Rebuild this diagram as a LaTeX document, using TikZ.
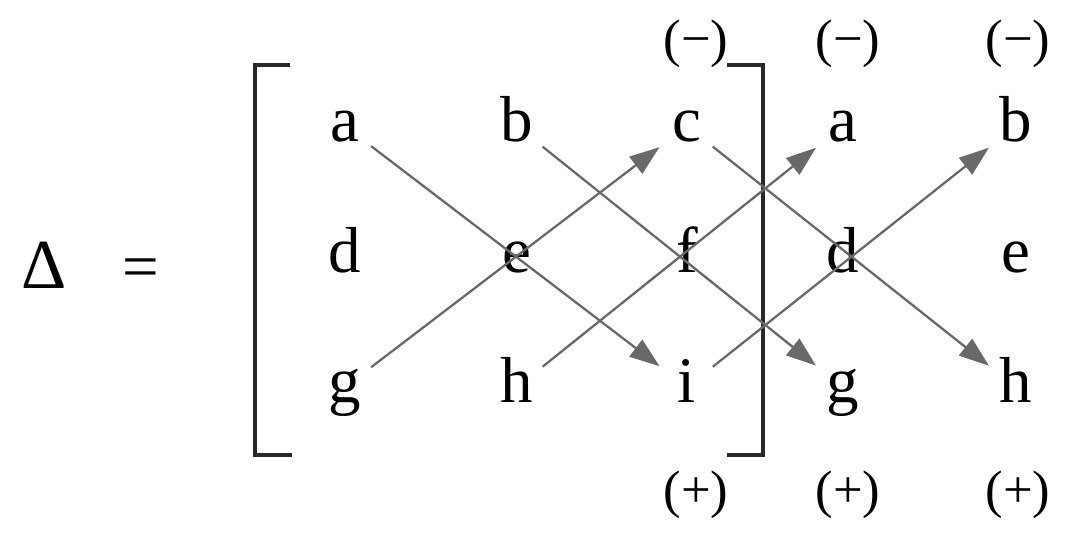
\documentclass[tikz,border=0pt]{standalone}
\usepackage{fontspec}
\setmainfont{Liberation Serif}
\usetikzlibrary{arrows.meta}
\definecolor{agray}{RGB}{105,105,105}
\definecolor{bblack}{RGB}{40,40,40}

\begin{document}
\begin{tikzpicture}[x=0.02cm,y=-0.02cm,
    ent/.style={circle,inner sep=0pt,minimum size=1.3cm,anchor=base,
                font=\fontsize{37}{40}\selectfont,text height=25pt,text depth=7pt},
    sgn/.style={anchor=base,font=\fontsize{30}{34}\selectfont},
    brk/.style={draw=bblack,line width=2.3pt,line join=miter},
    ar/.style={-{Triangle[length=17pt,width=12pt]},draw=agray,line width=1.3pt,
               shorten >=1pt}]
    \useasboundingbox (0,0) rectangle (1076,533);
    % left-hand side
    \node[anchor=base,font=\fontsize{40}{44}\selectfont] (delta) at (44,289) {Δ};
    \node[anchor=base,font=\fontsize{37}{40}\selectfont] (eq) at (141,289) {=};
    % matrix entries
    \node[ent] (a1) at (345,142) {a};
    \node[ent] (b1) at (517,142) {b};
    \node[ent] (c1) at (687,142) {c};
    \node[ent] (d1) at (345,273) {d};
    \node[ent] (e1) at (517,273) {e};
    \node[ent] (f1) at (687,273) {f};
    \node[ent] (g1) at (345,403) {g};
    \node[ent] (h1) at (517,403) {h};
    \node[ent] (i1) at (687,403) {i};
    % repeated columns
    \node[ent] (a2) at (843,142) {a};
    \node[ent] (b2) at (1016,142) {b};
    \node[ent] (d2) at (843,273) {d};
    \node[ent] (e2) at (1016,273) {e};
    \node[ent] (g2) at (843,403) {g};
    \node[ent] (h2) at (1016,403) {h};
    % brackets
    \draw[brk] (290,65) -- (255,65) -- (255,455) -- (292,455);
    \draw[brk] (727,65) -- (763,65) -- (763,455) -- (727,455);
    % signs
    \node[sgn] (m1) at (696,57) {(−)};
    \node[sgn] (m2) at (848,57) {(−)};
    \node[sgn] (m3) at (1018,57) {(−)};
    \node[sgn] (p1) at (696,508) {(+)};
    \node[sgn] (p2) at (848,508) {(+)};
    \node[sgn] (p3) at (1018,508) {(+)};
    % diagonals
    \draw[ar] (a1) -- (i1);
    \draw[ar] (b1) -- (g2);
    \draw[ar] (c1) -- (h2);
    \draw[ar] (g1) -- (c1);
    \draw[ar] (h1) -- (a2);
    \draw[ar] (i1) -- (b2);
\end{tikzpicture}
\end{document}
